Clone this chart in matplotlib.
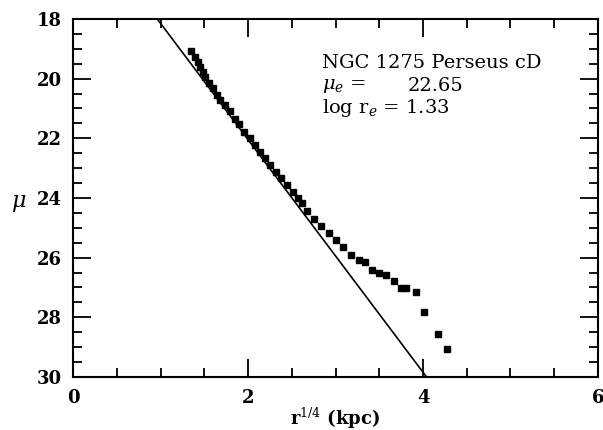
import matplotlib
matplotlib.use("Agg")
import matplotlib.pyplot as plt
from matplotlib.ticker import MultipleLocator

plt.rcParams['font.family'] = ['DejaVu Serif']
plt.rcParams['mathtext.fontset'] = 'dejavuserif'

# surface brightness profile, r^(1/4) vs mu
r14 = [1.345, 1.39, 1.43, 1.448, 1.486, 1.505, 1.554, 1.60, 1.639, 1.677,
       1.734, 1.79, 1.848, 1.897, 1.954, 2.019, 2.077, 2.134, 2.19, 2.248,
       2.32, 2.38, 2.44, 2.514, 2.571, 2.61, 2.667, 2.75, 2.834, 2.92,
       2.999, 3.082, 3.177, 3.265, 3.34, 3.42, 3.497, 3.58, 3.67, 3.753,
       3.81, 3.92, 4.008, 4.176, 4.274]
mu = [19.07, 19.26, 19.45, 19.60, 19.77, 19.93, 20.14, 20.32, 20.55, 20.72,
      20.88, 21.10, 21.36, 21.53, 21.78, 22.00, 22.22, 22.45, 22.67, 22.89,
      23.12, 23.34, 23.56, 23.79, 24.01, 24.18, 24.43, 24.70, 24.93, 25.17,
      25.42, 25.65, 25.92, 26.08, 26.15, 26.43, 26.51, 26.57, 26.77, 27.03,
      27.03, 27.14, 27.82, 28.57, 29.05]

# de Vaucouleurs fit line (end points)
fit_x = [0.96, 4.04]
fit_mu = [18.0, 30.0]

fig = plt.figure(figsize=(6.03, 4.30), dpi=100)
ax = fig.add_axes([0.1216, 0.1233, 0.870, 0.8326])

ax.plot(fit_x, fit_mu, color='black', lw=1.2, solid_capstyle='butt')
ax.plot(r14, mu, 's', color='black', ms=4.8, mec='black')

ax.set_xlim(0, 6)
ax.set_ylim(30, 18)

ax.xaxis.set_major_locator(MultipleLocator(2))
ax.xaxis.set_minor_locator(MultipleLocator(0.5))
ax.yaxis.set_major_locator(MultipleLocator(2))
ax.yaxis.set_minor_locator(MultipleLocator(0.5))
ax.tick_params(which='both', direction='in', top=True, right=True, width=1.3,
               color='black')
ax.tick_params(which='major', length=13)
ax.tick_params(axis='x', which='major', pad=9)
ax.tick_params(axis='y', which='major', pad=8)
ax.tick_params(which='minor', length=6.5)
for lab in ax.get_xticklabels() + ax.get_yticklabels():
    lab.set_fontsize(13)
    lab.set_fontweight('bold')
for sp in ax.spines.values():
    sp.set_linewidth(1.5)

fig.text(335 / 603, 1 - 418 / 430, r'r$^{1/4}$ (kpc)', fontsize=13,
         fontweight='bold', ha='center', va='center')
fig.text(19 / 603, 1 - 203 / 430, r'$\mu$', fontsize=16, ha='center',
         va='center')

ax.text(2.84, 19.46, 'NGC 1275 Perseus cD', fontsize=14, va='center')
ax.text(2.84, 20.25, r'$\mu_e$ =', fontsize=14, va='center')
ax.text(3.82, 20.25, '22.65', fontsize=14, va='center')
ax.text(2.84, 20.98, r'log r$_e$ = 1.33', fontsize=14, va='center')

fig.savefig('out.png', dpi=100)
